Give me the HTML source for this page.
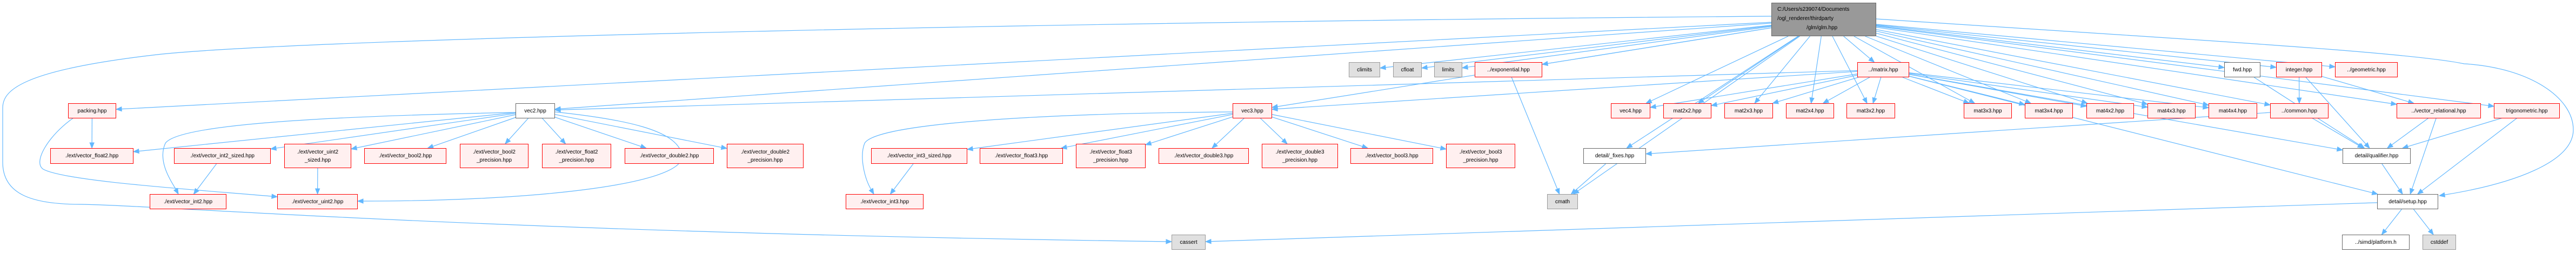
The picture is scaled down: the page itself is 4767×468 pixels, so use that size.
<!DOCTYPE html>
<html><head><meta charset="utf-8">
<style>
html,body{margin:0;padding:0;background:#fff;}
body{width:4767px;height:468px;position:relative;overflow:hidden;font-family:"Liberation Sans",Arial,sans-serif;}
.n{position:absolute;box-sizing:border-box;display:flex;align-items:center;justify-content:center;text-align:center;font-size:10px;line-height:15px;color:#000;white-space:nowrap;z-index:2;}
.r{background:#fff0f0;border:1px solid #ff0000;}
.w{background:#fff;border:1px solid #666;}
.g{background:#e0e0e0;border:1px solid #999;}
.root{background:#999;border:1px solid #666;line-height:17px;text-align:left;display:block;padding:3px 0 0 10px;}
svg{position:absolute;left:0;top:0;z-index:1;}
</style></head><body>
<svg id="s" width="4767" height="468"></svg>
<div class="n root" style="left:3278px;top:5px;width:194px;height:62px;">C:/Users/s239074/Documents<br>/ogl_renderer/thirdparty<br><span style="padding-left:54px">/glm/glm.hpp</span></div>

<div class="n g" style="left:2496px;top:115px;width:58px;height:28px;">climits</div>
<div class="n g" style="left:2578px;top:115px;width:53px;height:28px;">cfloat</div>
<div class="n g" style="left:2654px;top:115px;width:52px;height:28px;">limits</div>
<div class="n r" style="left:2729px;top:115px;width:125px;height:28px;">../exponential.hpp</div>
<div class="n r" style="left:3437px;top:115px;width:96px;height:28px;">../matrix.hpp</div>
<div class="n w" style="left:4116px;top:115px;width:67px;height:28px;">fwd.hpp</div>
<div class="n r" style="left:4212px;top:115px;width:85px;height:28px;">integer.hpp</div>
<div class="n r" style="left:4321px;top:115px;width:116px;height:28px;">../geometric.hpp</div>

<div class="n r" style="left:126px;top:191px;width:89px;height:28px;">packing.hpp</div>
<div class="n w" style="left:954px;top:191px;width:73px;height:28px;">vec2.hpp</div>
<div class="n r" style="left:2281px;top:191px;width:73px;height:28px;">vec3.hpp</div>
<div class="n r" style="left:2981px;top:191px;width:73px;height:28px;">vec4.hpp</div>
<div class="n r" style="left:3078px;top:191px;width:89px;height:28px;">mat2x2.hpp</div>
<div class="n r" style="left:3191px;top:191px;width:90px;height:28px;">mat2x3.hpp</div>
<div class="n r" style="left:3305px;top:191px;width:89px;height:28px;">mat2x4.hpp</div>
<div class="n r" style="left:3417px;top:191px;width:90px;height:28px;">mat3x2.hpp</div>
<div class="n r" style="left:3634px;top:191px;width:89px;height:28px;">mat3x3.hpp</div>
<div class="n r" style="left:3747px;top:191px;width:89px;height:28px;">mat3x4.hpp</div>
<div class="n r" style="left:3861px;top:191px;width:88px;height:28px;">mat4x2.hpp</div>
<div class="n r" style="left:3974px;top:191px;width:89px;height:28px;">mat4x3.hpp</div>
<div class="n r" style="left:4087px;top:191px;width:90px;height:28px;">mat4x4.hpp</div>
<div class="n r" style="left:4201px;top:191px;width:108px;height:28px;">../common.hpp</div>
<div class="n r" style="left:4435px;top:191px;width:156px;height:28px;">../vector_relational.hpp</div>
<div class="n r" style="left:4615px;top:191px;width:122px;height:28px;">trigonometric.hpp</div>

<div class="n r" style="left:93px;top:274px;width:154px;height:29px;">./ext/vector_float2.hpp</div>
<div class="n r" style="left:322px;top:274px;width:179px;height:29px;">./ext/vector_int2_sized.hpp</div>
<div class="n r" style="left:526px;top:266px;width:124px;height:45px;">./ext/vector_uint2<br>_sized.hpp</div>
<div class="n r" style="left:674px;top:274px;width:152px;height:29px;">./ext/vector_bool2.hpp</div>
<div class="n r" style="left:851px;top:266px;width:127px;height:45px;">./ext/vector_bool2<br>_precision.hpp</div>
<div class="n r" style="left:1003px;top:266px;width:128px;height:45px;">./ext/vector_float2<br>_precision.hpp</div>
<div class="n r" style="left:1156px;top:274px;width:165px;height:29px;">./ext/vector_double2.hpp</div>
<div class="n r" style="left:1345px;top:266px;width:142px;height:45px;">./ext/vector_double2<br>_precision.hpp</div>
<div class="n r" style="left:1612px;top:274px;width:178px;height:29px;">./ext/vector_int3_sized.hpp</div>
<div class="n r" style="left:1813px;top:274px;width:154px;height:29px;">./ext/vector_float3.hpp</div>
<div class="n r" style="left:1991px;top:266px;width:129px;height:45px;">./ext/vector_float3<br>_precision.hpp</div>
<div class="n r" style="left:2144px;top:274px;width:167px;height:29px;">./ext/vector_double3.hpp</div>
<div class="n r" style="left:2335px;top:266px;width:141px;height:45px;">./ext/vector_double3<br>_precision.hpp</div>
<div class="n r" style="left:2499px;top:274px;width:153px;height:29px;">./ext/vector_bool3.hpp</div>
<div class="n r" style="left:2676px;top:266px;width:128px;height:45px;">./ext/vector_bool3<br>_precision.hpp</div>
<div class="n w" style="left:2930px;top:274px;width:116px;height:29px;">detail/_fixes.hpp</div>
<div class="n w" style="left:4335px;top:274px;width:126px;height:29px;">detail/qualifier.hpp</div>

<div class="n r" style="left:277px;top:359px;width:142px;height:28px;">./ext/vector_int2.hpp</div>
<div class="n r" style="left:513px;top:359px;width:149px;height:28px;">./ext/vector_uint2.hpp</div>
<div class="n r" style="left:1565px;top:359px;width:144px;height:28px;">./ext/vector_int3.hpp</div>
<div class="n g" style="left:2863px;top:359px;width:57px;height:28px;">cmath</div>
<div class="n w" style="left:4399px;top:359px;width:113px;height:28px;">detail/setup.hpp</div>

<div class="n g" style="left:2168px;top:434px;width:63px;height:28px;">cassert</div>
<div class="n w" style="left:4334px;top:434px;width:125px;height:28px;">../simd/platform.h</div>
<div class="n g" style="left:4483px;top:434px;width:62px;height:28px;">cstddef</div>

<script>
var N={root:[3278,3472,5,67],climits:[2496,2554,115,143],cfloat:[2578,2631,115,143],limits:[2654,2706,115,143],exponential:[2729,2854,115,143],matrix:[3437,3533,115,143],fwd:[4116,4183,115,143],integer:[4212,4297,115,143],geometric:[4321,4437,115,143],
packing:[126,215,191,218],vec2:[954,1027,191,218],vec3:[2281,2354,191,218],vec4:[2981,3054,191,218],m22:[3078,3167,191,218],m23:[3191,3281,191,218],m24:[3305,3394,191,218],m32:[3417,3507,191,218],m33:[3634,3723,191,218],m34:[3747,3836,191,218],m42:[3861,3949,191,218],m43:[3974,4063,191,218],m44:[4087,4177,191,218],common:[4201,4309,191,218],vrel:[4435,4591,191,218],trig:[4615,4737,191,218],
float2:[93,247,274,303],int2s:[322,501,274,303],uint2s:[526,650,266,311],bool2:[674,826,274,303],bool2p:[851,978,266,311],float2p:[1003,1131,266,311],double2:[1156,1321,274,303],double2p:[1345,1487,266,311],int3s:[1612,1790,274,303],float3:[1813,1967,274,303],float3p:[1991,2120,266,311],double3:[2144,2311,274,303],double3p:[2335,2476,266,311],bool3:[2499,2652,274,303],bool3p:[2676,2804,266,311],fixes:[2930,3046,274,303],qual:[4335,4461,274,303],
int2:[277,419,359,387],uint2:[513,662,359,387],int3:[1565,1709,359,387],cmath:[2863,2920,359,387],setup:[4399,4512,359,387],cassert:[2168,2231,434,462],platform:[4334,4459,434,462],cstddef:[4483,4545,434,462]};
var E=[];
function add(a,l){l.split(' ').forEach(function(b){E.push([a,b]);});}
add('root','climits cfloat limits exponential matrix fwd integer geometric packing vec2 vec3 vec4 m22 m23 m24 m32 m33 m34 m42 m43 m44 common vrel trig fixes cmath');
add('matrix','vec2 vec3 vec4 m22 m23 m24 m32 m33 m34 m42 m43 m44 qual setup');
add('integer','common qual vrel');add('fwd','qual');add('common','qual fixes');
add('vrel','qual setup');add('trig','qual setup');add('qual','setup');add('setup','platform cstddef cassert');
add('exponential','cmath');add('fixes','cmath');add('packing','float2');
add('vec2','float2 int2s uint2s bool2 bool2p float2p double2 double2p');add('int2s','int2');add('uint2s','uint2');
add('vec3','int3s float3 float3p double3 double3p bool3 bool3p');add('int3s','int3');
var C='#63b8ff',out='';
function ctr(n){return [(n[0]+n[1])/2,(n[2]+n[3])/2];}
function clip(n,p){var c=ctr(n),hw=(n[1]-n[0])/2,hh=(n[3]-n[2])/2,dx=p[0]-c[0],dy=p[1]-c[1];
 var t=Math.min(dx?hw/Math.abs(dx):1e9,dy?hh/Math.abs(dy):1e9);return [c[0]+dx*t,c[1]+dy*t];}
function arrow(p,q){var dx=q[0]-p[0],dy=q[1]-p[1],l=Math.sqrt(dx*dx+dy*dy),ux=dx/l,uy=dy/l,L=10,W=4;
 var bx=q[0]-ux*L,by=q[1]-uy*L;
 out+='<polygon fill="'+C+'" stroke="'+C+'" points="'+q[0]+','+q[1]+' '+(bx-uy*W)+','+(by+ux*W)+' '+(bx+uy*W)+','+(by-ux*W)+'"/>';
 return [bx,by];}
E.forEach(function(e){var A=N[e[0]],B=N[e[1]];var s=clip(A,ctr(B)),t=clip(B,ctr(A));var b=arrow(s,t);
 out+='<path d="M'+s[0]+','+s[1]+' L'+b[0]+','+b[1]+'" fill="none" stroke="'+C+'" stroke-width="1.2"/>';});
function cp(d,last,end){var b=arrow(last,end);out+='<path d="'+d+' '+b[0]+','+b[1]+'" fill="none" stroke="'+C+'" stroke-width="1.2"/>';}
cp('M3278,30 C2000,40 600,70 300,100 C30,130 5,170 5,200 L5,300 C5,360 60,378 150,378 C300,380 900,430',[900,430],[2168,447]);
cp('M3472,35 C4000,70 4450,95 4560,118 C4680,125 4762,180 4762,240 C4762,300 4650,340',[4650,340],[4514,362]);
cp('M1027,207 C1150,220 1260,240 1262,290 C1262,340 1000,372',[1000,372],[662,372]);
cp('M954,208 C600,215 330,230 306,265 C290,300 320,340',[320,340],[330,359]);
cp('M136,218 C90,250 60,300 80,313 C120,335 350,350',[350,350],[513,364]);
cp('M2281,207 C1900,210 1620,230 1600,265 C1590,290 1600,330',[1600,330],[1617,359]);
document.getElementById('s').innerHTML=out;
</script>
</body></html>
